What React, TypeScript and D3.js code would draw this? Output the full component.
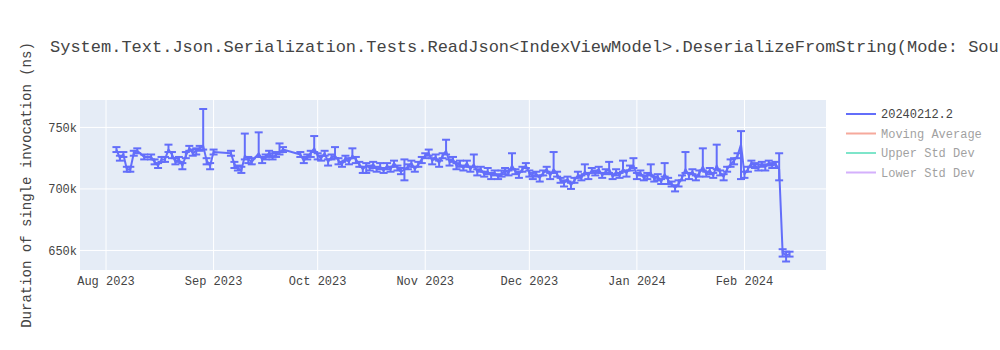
import React from "react";
import * as d3 from "d3";

const TITLE = "System.Text.Json.Serialization.Tests.ReadJson<IndexViewModel>.DeserializeFromString(Mode: SourceGen)";
const Y_TITLE = "Duration of single invocation (ns)";
const LEGEND_NAMES = ["20240212.2", "Moving Average", "Upper Std Dev", "Lower Std Dev"];
const LEGEND_COLORS = ["#636efa", "#EF553B", "#00cc96", "#ab63fa"];
const LEGEND_VISIBLE = [true, false, false, false];

const Y_TICKS = [650000, 700000, 750000];
const X_DOMAIN = ["2023-07-24T12:00", "2024-02-24T12:00"];
const Y_DOMAIN = [634100, 772300];

const dates = [
  "2023-08-04","2023-08-05","2023-08-06","2023-08-07","2023-08-08","2023-08-09","2023-08-10","2023-08-12","2023-08-14","2023-08-15",
  "2023-08-16","2023-08-17","2023-08-18","2023-08-19","2023-08-20","2023-08-21","2023-08-22","2023-08-23","2023-08-24","2023-08-25",
  "2023-08-26","2023-08-27","2023-08-28","2023-08-29","2023-08-30","2023-08-31","2023-09-01",
  "2023-09-06","2023-09-07","2023-09-08","2023-09-09","2023-09-10","2023-09-11","2023-09-12","2023-09-14","2023-09-15","2023-09-16",
  "2023-09-17","2023-09-18","2023-09-19","2023-09-20","2023-09-21",
  "2023-09-26","2023-09-27","2023-09-28","2023-09-29","2023-09-30",
  "2023-10-01","2023-10-02","2023-10-03","2023-10-04","2023-10-05","2023-10-06","2023-10-07","2023-10-08","2023-10-09","2023-10-10",
  "2023-10-11","2023-10-12","2023-10-13","2023-10-14","2023-10-15","2023-10-16","2023-10-17","2023-10-18","2023-10-19","2023-10-20",
  "2023-10-21","2023-10-22","2023-10-23","2023-10-24","2023-10-25","2023-10-26","2023-10-27","2023-10-28","2023-10-29","2023-10-30",
  "2023-10-31",
  "2023-11-01","2023-11-02","2023-11-03","2023-11-04","2023-11-05","2023-11-06","2023-11-07","2023-11-08","2023-11-09","2023-11-10",
  "2023-11-11","2023-11-12","2023-11-13","2023-11-14","2023-11-15","2023-11-16","2023-11-17","2023-11-18","2023-11-19","2023-11-20",
  "2023-11-21","2023-11-22","2023-11-23","2023-11-24","2023-11-25","2023-11-26","2023-11-27","2023-11-28","2023-11-29","2023-11-30",
  "2023-12-01","2023-12-02","2023-12-03","2023-12-04","2023-12-05","2023-12-06","2023-12-07","2023-12-08","2023-12-09","2023-12-10",
  "2023-12-11","2023-12-12","2023-12-13","2023-12-14","2023-12-15","2023-12-16","2023-12-17","2023-12-18","2023-12-19","2023-12-20",
  "2023-12-21","2023-12-22","2023-12-23","2023-12-24","2023-12-25","2023-12-26","2023-12-27","2023-12-28","2023-12-29","2023-12-30",
  "2023-12-31",
  "2024-01-01","2024-01-02","2024-01-03","2024-01-04","2024-01-05","2024-01-06","2024-01-07","2024-01-08","2024-01-09","2024-01-10",
  "2024-01-11","2024-01-12","2024-01-13","2024-01-14","2024-01-15","2024-01-16","2024-01-17","2024-01-18","2024-01-19","2024-01-20",
  "2024-01-21","2024-01-22","2024-01-23","2024-01-24","2024-01-25","2024-01-26","2024-01-27","2024-01-28","2024-01-29","2024-01-30",
  "2024-01-31",
  "2024-02-01","2024-02-02","2024-02-03","2024-02-04","2024-02-05","2024-02-06","2024-02-07","2024-02-08","2024-02-09","2024-02-10",
  "2024-02-11","2024-02-12","2024-02-13","2024-02-14",
];

// values in thousands of ns
const valuesK = [
  732,725,728,716,716,729,731,726,726,722,
  719,724,724,732,728,722,724,719,727,733,
  729,731,733,735,723,719,730,
  729,720,717,715,727,724,722,729,724,726,
  729,726,728,730,732,
  728,723,726,729,733,
  727,725,729,722,726,727,723,720,725,722,
  727,724,720,716,719,717,720,716,718,715,
  719,716,721,717,714,716,718,721,716,720,
  724,
  727,729,723,726,721,727,731,722,724,719,
  720,717,721,716,720,714,716,712,714,711,
  713,710,712,715,713,719,714,712,716,719,
  713,710,712,709,713,716,711,716,712,707,
  705,708,703,707,711,709,714,711,715,713,
  716,711,714,716,710,714,711,716,713,717,
  719,
  711,713,709,711,713,708,710,706,712,707,
  704,701,704,709,716,711,714,709,713,718,
  712,715,711,719,713,710,716,720,723,727,
  736,
  712,716,721,719,717,720,718,721,719,720,
  716,648,646,647,
];

const errPlusK = [
  2,2,2,2,2,2,2,2,2,2,
  2,2,2,4,2,3,2,2,3,2,
  3,2,2,30,2,2,2,
  2,2,2,3,18,2,3,17,2,2,
  2,3,2,7,2,
  2,3,2,2,10,
  2,2,2,2,2,7,2,2,2,3,
  6,2,2,2,2,2,2,2,3,2,
  2,2,2,2,3,8,2,2,2,2,
  2,
  2,3,2,2,2,2,9,2,2,2,
  3,2,2,2,8,2,2,2,3,2,
  2,2,3,2,2,10,2,2,2,2,
  2,3,2,2,2,2,2,14,2,2,
  2,2,2,2,3,2,6,2,2,2,
  2,2,2,6,2,2,2,7,2,2,
  6,
  2,2,2,2,7,2,2,2,9,2,
  2,2,3,2,14,2,2,2,2,15,
  2,2,2,17,2,2,2,4,2,2,
  11,
  2,2,2,2,3,2,2,2,2,2,
  13,3,3,2,
];

const errMinusK = [
  2,2,2,2,2,2,2,2,2,2,
  2,2,2,2,3,2,2,3,2,2,
  2,3,2,3,3,3,2,
  2,3,2,2,3,3,2,3,3,2,
  3,2,2,2,2,
  2,2,2,3,3,
  3,2,2,3,2,2,3,2,2,2,
  2,3,2,3,6,2,3,2,2,2,
  3,2,3,2,2,9,2,3,2,2,
  3,
  2,2,3,2,3,2,3,3,2,3,
  2,2,3,2,2,3,2,2,2,3,
  2,2,2,3,2,3,2,3,2,2,
  3,2,2,3,2,2,3,3,2,2,
  3,2,3,2,2,2,2,3,2,2,
  3,2,2,3,2,3,2,2,3,2,
  2,
  3,2,2,3,2,2,3,2,2,3,
  2,3,2,2,3,3,2,2,3,3,
  2,3,2,3,2,3,2,2,3,2,
  28,
  3,2,3,2,2,2,3,2,2,3,
  9,3,5,2,
];

const W = 1000;
const H = 350;
const M = { l: 80, r: 174, t: 100, b: 80 };
const FONT = "'Liberation Mono', 'Courier New', monospace";
const TEXT = "#444";

export default function App() {
  const parse = d3.timeParse("%Y-%m-%dT%H:%M");
  const parseDay = d3.timeParse("%Y-%m-%d");
  const x = d3
    .scaleTime()
    .domain(X_DOMAIN.map((s) => parse(s) as Date))
    .range([M.l, W - M.r]);
  const y = d3.scaleLinear().domain(Y_DOMAIN).range([H - M.b, M.t]);

  const data = dates.map((d, i) => ({
    date: parseDay(d) as Date,
    v: valuesK[i] * 1000,
    hi: (valuesK[i] + errPlusK[i]) * 1000,
    lo: (valuesK[i] - errMinusK[i]) * 1000,
  }));

  const line = d3
    .line<typeof data[number]>()
    .x((d) => x(d.date))
    .y((d) => y(d.v));

  const xTicks = d3.timeMonth.range(new Date(2023, 7, 1), new Date(2024, 2, 1));
  const fmtX = d3.timeFormat("%b %Y");
  const fmtY = d3.format("~s");
  const capW = 4;
  const color = "#636efa";

  return (
    <svg
      width={W}
      height={H}
      style={{ position: "absolute", left: 0, top: 0, display: "block", background: "#fff" }}
      fontFamily={FONT}
    >
      <defs>
        <clipPath id="plotclip">
          <rect x={M.l} y={M.t} width={W - M.l - M.r} height={H - M.t - M.b} />
        </clipPath>
      </defs>
      <rect x={M.l} y={M.t} width={W - M.l - M.r} height={H - M.t - M.b} fill="#e5ecf6" />
      {xTicks.map((t, i) => (
        <line key={"gx" + i} x1={x(t)} x2={x(t)} y1={M.t} y2={H - M.b} stroke="#fff" strokeWidth={1} />
      ))}
      {Y_TICKS.map((t, i) => (
        <line key={"gy" + i} x1={M.l} x2={W - M.r} y1={y(t)} y2={y(t)} stroke="#fff" strokeWidth={1} />
      ))}
      <g clipPath="url(#plotclip)">
        <path d={line(data) || ""} fill="none" stroke={color} strokeWidth={2} strokeLinejoin="round" />
        {data.map((d, i) => (
          <g key={"e" + i} stroke={color} strokeWidth={2}>
            <line x1={x(d.date)} x2={x(d.date)} y1={y(d.hi)} y2={y(d.lo)} />
            <line x1={x(d.date) - capW} x2={x(d.date) + capW} y1={y(d.hi)} y2={y(d.hi)} />
            <line x1={x(d.date) - capW} x2={x(d.date) + capW} y1={y(d.lo)} y2={y(d.lo)} />
          </g>
        ))}
      </g>
      {xTicks.map((t, i) => (
        <text key={"tx" + i} x={x(t)} y={H - M.b + 15} textAnchor="middle" fontSize={12} fill={TEXT}>
          {fmtX(t)}
        </text>
      ))}
      {Y_TICKS.map((t, i) => (
        <text key={"ty" + i} x={M.l - 3} y={y(t)} dy="0.35em" textAnchor="end" fontSize={12} fill={TEXT}>
          {fmtY(t)}
        </text>
      ))}
      <text x={50} y={46} dy="0.35em" fontSize={17} fill={TEXT}>
        {TITLE}
      </text>
      <text
        transform={`translate(26,${(M.t + H - M.b) / 2}) rotate(-90)`}
        textAnchor="middle"
        dy="0.35em"
        fontSize={14}
        fill={TEXT}
      >
        {Y_TITLE}
      </text>
      {LEGEND_NAMES.map((n, i) => (
        <g key={"lg" + i} opacity={LEGEND_VISIBLE[i] ? 1 : 0.5}>
          <line x1={846} x2={876} y1={114 + i * 19.5} y2={114 + i * 19.5} stroke={LEGEND_COLORS[i]} strokeWidth={2} />
          <text x={881} y={114 + i * 19.5} dy="0.35em" fontSize={12} fill={TEXT}>
            {n}
          </text>
        </g>
      ))}
    </svg>
  );
}
